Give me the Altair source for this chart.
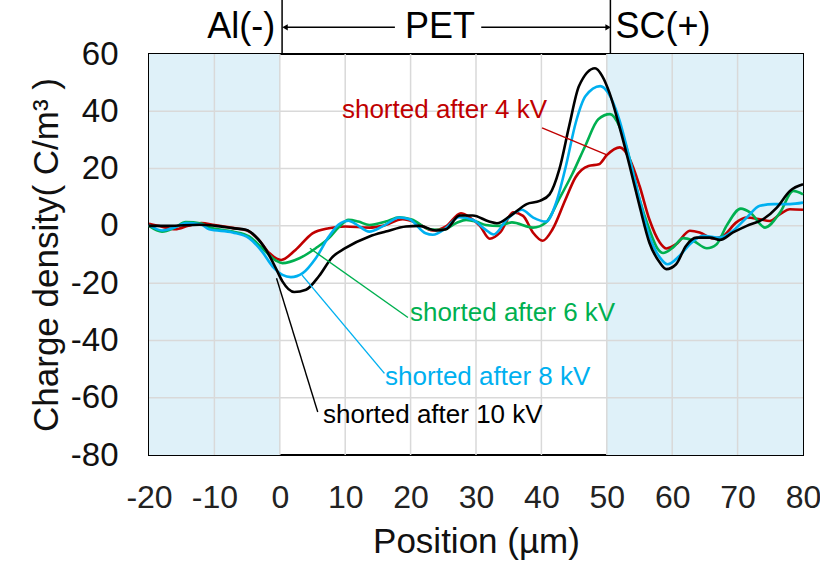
import altair as alt
import pandas as pd

# ---- data ----
red_x = [-20, -18, -16, -14, -12, -10, -7, -5, -3.2, -1.6, 0.2, 2.4, 5, 7.5, 10, 13.7, 15.7, 18.8, 20.8, 23.4,
         25.4, 27.7, 29, 30.6, 32.1, 33.7, 35.7, 37.2, 38.7, 40.2, 41.7, 43.7, 45.2, 47.2, 48.8, 50, 52, 53.5,
         55, 56.5, 58.1, 59.1, 60.6, 62.7, 64.2, 66.3, 67.8, 69.8, 71.4, 73.4, 74.9, 76.5, 78, 80]
red_y = [0.7, -0.3, -1.2, 0, 1, 0.3, -0.8, -1.6, -4.9, -9.5, -11.9, -8.4, -2.6, -0.8, -0.2, -0.6, 0, 2.3, 1.2, -1.6,
         -0.2, 4.4, 3, 0, -4.5, -2.3, 4.7, 3.5, -2.3, -5.2, -1.2, 9.3, 16.9, 20.9, 21.5, 24.7, 27.4, 23.3,
         14, 2.3, -5.8, -7.9, -6.4, -1.7, -2.3, -4.4, -3.5, 1.2, 2.9, 2.3, 1.7, 4.1, 5.8, 5.6]

green_x = [-20, -18, -16, -14.4, -12, -10.8, -7.2, -4.7, -2.7, -0.6, 0.4, 3, 5.5, 7.5, 9, 10.5, 12, 13.7, 16.2,
           18.3, 20.3, 22.9, 24.9, 27, 28.5, 30, 31.5, 33.5, 35.5, 38.7, 40.7, 42.7, 44.7, 46.7, 48.7, 50.5,
           51.9, 53.5, 55, 56.5, 57.8, 58.6, 60.1, 61.7, 63.2, 65.3, 66.8, 68.3, 70.5, 71.9, 74.2, 76.5, 78.5, 80]
green_y = [0, -2, -0.5, 1.3, 0.8, -0.5, -2, -3.7, -7.8, -12.1, -13, -11.3, -7.8, -4.3, -0.5, 2.1, 1.5, 0.3, 1.5,
           3, 2.1, -1.2, -1.4, 1, 2.1, 1.5, 0.3, 0, 1.2, -0.6, 1.2, 9.3, 18, 27.9, 37.2, 39,
           34.9, 23.3, 9.3, -1.2, -8.1, -9.5, -7.6, -4.3, -5.2, -7.8, -6.4, 0, 6, 4.7, -0.6, 4.7, 12.2, 11]

blue_x = [-20, -18, -16, -14.4, -12, -10.8, -7.2, -4.7, -2.7, -1.1, 0.4, 1.7, 3.5, 5.5, 7.5, 9, 10.5, 11.5, 13.7,
          15.7, 18.3, 19.8, 22.3, 23.4, 25.4, 27.4, 29.5, 31.5, 32.7, 34.75, 37, 38.75, 40.75, 42.25, 43.75,
          45.25, 46.75, 49, 50.2, 51.9, 53.5, 55, 56.5, 58.1, 59.3, 61.1, 62.7, 64.7, 67.3, 69.3, 71.4, 73.4,
          75.5, 78, 80]
blue_y = [0.3, -1.6, -0.5, 1, 0.5, -1.2, -2.3, -4.3, -9, -14.2, -17.1, -17.9, -16.5, -11.3, -3.7, 0.5, 1.8, 0.8, -2,
          -0.2, 2.9, 2.3, -2.6, -3.1, -0.8, 3, 2.1, -1.4, -3, 2.3, 5.6, 2.9, 1.5, 8.1, 20.9,
          36, 45.3, 48.8, 46.5, 37.2, 23.3, 9.3, -3.5, -11, -13.4, -10.5, -6.4, -3.5, -4.1, -1.7, 2.9, 7,
          7.6, 7.6, 8.1]

black_x = [-20, -17, -12.3, -9.8, -7.2, -5.2, -3.7, -2.1, -0.6, 0.4, 2.2, 4, 6, 8, 10, 13.7, 16.2, 19.3, 21.3,
           23.9, 25.4, 27.5, 29.5, 32, 33.2, 35.25, 37.75, 39.75, 41.25, 42.75, 44.25, 45.75, 48.2, 49.3, 50.4,
           51.9, 53.5, 55, 56.5, 58.1, 59.1, 60.6, 62.1, 63.7, 65.8, 67.3, 69.3, 71.4, 73.9, 76, 78, 80]
black_y = [0, 0, 0.4, 0, -0.8, -1.4, -3.7, -8.4, -14.8, -19.4, -23.1, -22.3, -17.5, -11, -7.8, -3.7, -2, -0.2, 0,
           -1.6, -1.2, 3.6, 3.6, 1.5, 0.9, 3.5, 7.6, 8.7, 11, 19.8, 34.9, 48.8, 55, 52.3, 46.5,
           34.9, 20.9, 7, -5.8, -12.8, -15.1, -13.4, -7, -4.1, -4.1, -4.9, -2.3, 0, 2.3, 6.4, 12.2, 14.5]

series_names = ["shorted after 4 kV", "shorted after 6 kV", "shorted after 8 kV", "shorted after 10 kV"]
series_colors = ["#C00000", "#00B050", "#00B0F0", "#000000"]

x_ticks = [-20, -10, 0, 10, 20, 30, 40, 50, 60, 70, 80]
y_ticks = [-80, -60, -40, -20, 0, 20, 40, 60]

# shaded electrode regions
shade_start = [-20, 50]
shade_end = [0, 80]

# label positions (data units) and leader lines
label_x = [9.5, 19.9, 16.1, 6.6]
label_y = [40.4, -30.4, -52.8, -66.0]
leader_x1 = [40.1, 4.6, 3.4, -0.5]
leader_y1 = [34.2, -7.8, -17.2, -18.3]
leader_x2 = [50.1, 19.6, 16.0, 5.8]
leader_y2 = [24.7, -32.0, -51.5, -65.0]

# top region annotations
region_text = ["Al(-)", "PET", "SC(+)"]
region_x = [-5.9, 24.5, 58.6]
region_y = 69.6
divider_x = [0.35, 50.55]
divider_top = 79.0
arrow_start = [0.8, 30.8]
arrow_end = [17.6, 50.2]
arrow_y = 69.3

W, H = 654, 401
FONT = "Liberation Sans"

xs = alt.Scale(domain=[-20, 80], nice=False, zero=False)
ys = alt.Scale(domain=[-80, 60], nice=False, zero=False)

x_axis = alt.Axis(values=x_ticks, title="Position (µm)", grid=False, ticks=False, domain=False,
                  labelExpr="toString(datum.value)",
                  labelFontSize=32, labelColor="#222222", labelPadding=27, titleFontSize=35,
                  titleFontWeight="normal", titleColor="#111111", titlePadding=11, labelFlush=False)
y_axis = alt.Axis(values=y_ticks, title="Charge density( C/m³ )", grid=False, ticks=False, domain=False,
                  labelExpr="toString(datum.value)",
                  labelFontSize=33, labelColor="#111111", labelPadding=31, titleFontSize=35,
                  titleFontWeight="normal", titleColor="#111111", titlePadding=6, labelFlush=False)


def X(field):
    return alt.X(field, scale=xs, axis=x_axis)


def Y(field):
    return alt.Y(field, scale=ys, axis=y_axis)


shade_df = pd.DataFrame({"x0": shade_start, "x1": shade_end, "y0": [-80, -80], "y1": [60, 60]})
shade = alt.Chart(shade_df).mark_rect(color="#DFF1F9").encode(
    x=X("x0:Q"), x2="x1:Q", y=Y("y0:Q"), y2="y1:Q")

vgrid = alt.Chart(pd.DataFrame({"gx": x_ticks[1:-1]})).mark_rule(color="#D9D9D9", strokeWidth=1.5).encode(
    x=X("gx:Q"))
hgrid = alt.Chart(pd.DataFrame({"gy": y_ticks[1:-1]})).mark_rule(color="#D9D9D9", strokeWidth=1.5).encode(
    y=Y("gy:Q"))

lines = []
for name, sx, sy in [(series_names[0], red_x, red_y), (series_names[1], green_x, green_y),
                     (series_names[2], blue_x, blue_y), (series_names[3], black_x, black_y)]:
    d = pd.DataFrame({"x": sx, "y": sy, "series": name})
    lines.append(alt.Chart(d).mark_line(strokeWidth=2.6, interpolate="monotone").encode(
        x=X("x:Q"), y=Y("y:Q"),
        color=alt.Color("series:N", scale=alt.Scale(domain=series_names, range=series_colors), legend=None)))

lab_df = pd.DataFrame({"name": series_names, "lx": label_x, "ly": label_y,
                       "x1": leader_x1, "y1": leader_y1, "x2": leader_x2, "y2": leader_y2})
col = alt.Color("name:N", scale=alt.Scale(domain=series_names, range=series_colors), legend=None)
leaders = alt.Chart(lab_df).mark_rule(strokeWidth=1.4).encode(
    x=X("x1:Q"), y=Y("y1:Q"), x2="x2:Q", y2="y2:Q", color=col)
labels = alt.Chart(lab_df).mark_text(fontSize=26, align="left", baseline="middle", font=FONT).encode(
    x=X("lx:Q"), y=Y("ly:Q"), text="name:N", color=col)

reg_df = pd.DataFrame({"t": region_text, "rx": region_x, "ry": [region_y] * 3})
regions = alt.Chart(reg_df).mark_text(fontSize=36, align="center", baseline="middle", font=FONT,
                                      color="black").encode(
    x=X("rx:Q"), y=Y("ry:Q"), text="t:N")

div_df = pd.DataFrame({"dx": divider_x, "d0": [60, 60], "d1": [divider_top] * 2})
dividers = alt.Chart(div_df).mark_rule(color="black", strokeWidth=1.5).encode(
    x=X("dx:Q"), y=Y("d0:Q"), y2="d1:Q")

arr_df = pd.DataFrame({"a0": arrow_start, "a1": arrow_end, "ay": [arrow_y] * 2})
arrows = alt.Chart(arr_df).mark_rule(color="black", strokeWidth=1.5).encode(
    x=X("a0:Q"), x2="a1:Q", y=Y("ay:Q"))

head_df = pd.DataFrame({"hx": [arrow_start[0], arrow_end[1]], "hy": [arrow_y] * 2,
                        "shape": ["triangle-left", "triangle-right"]})
heads = alt.Chart(head_df).mark_point(filled=True, color="black", size=40, opacity=1).encode(
    x=X("hx:Q"), y=Y("hy:Q"),
    shape=alt.Shape("shape:N", scale=None, legend=None))

chart = alt.layer(shade, vgrid, hgrid, *lines, leaders, labels, regions, dividers, arrows, heads).properties(
    width=W, height=H,
    autosize=alt.AutoSizeParams(type="none"),
    padding={"left": 149, "top": 54, "right": 17, "bottom": 107},
    background="white",
).configure(font=FONT).configure_view(stroke="black", strokeWidth=2)

chart.save("out.html", embed_options={"renderer": "svg", "actions": False})
